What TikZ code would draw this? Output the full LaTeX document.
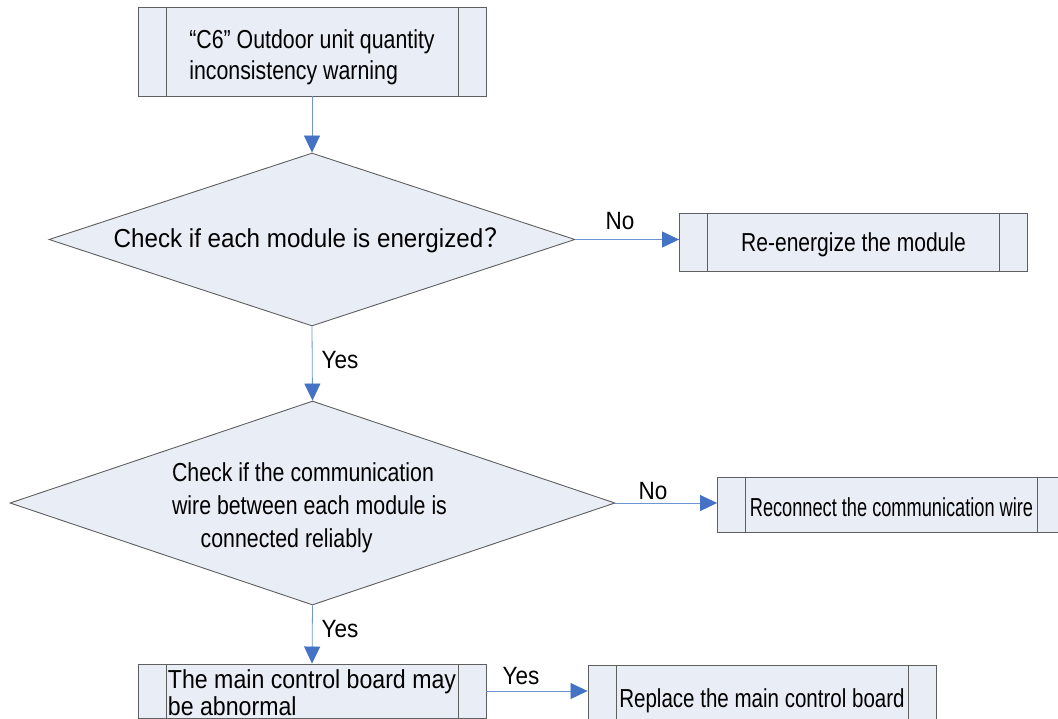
\documentclass[tikz,border=0pt]{standalone}
\usepackage{fontspec}
\setmainfont{Liberation Sans}
\newfontfamily\cjkfont{Noto Sans CJK SC}
\usepackage{graphicx}
\usetikzlibrary{shapes.geometric,arrows.meta}
\definecolor{boxfill}{RGB}{233,237,246}
\definecolor{boxline}{RGB}{95,95,95}
\definecolor{conn}{RGB}{110,148,212}
\definecolor{tipblue}{RGB}{68,114,196}
\newcommand{\sx}[2]{\scalebox{#1}[1]{#2}}
\newcommand{\lowerby}[2]{\raisebox{-#1}[\height][\depth]{#2}}
\begin{document}
\begin{tikzpicture}[x=1pt,y=-1pt,
  every node/.style={font=\fontsize{26}{31}\selectfont},
  procbox/.style={draw=boxline, fill=boxfill, line width=0.9pt, rectangle, inner sep=0pt,
    minimum width=348pt, minimum height=#1,
    path picture={\draw[boxline,line width=0.9pt]
      ([xshift=28pt]path picture bounding box.north west) -- ([xshift=28pt]path picture bounding box.south west)
      ([xshift=-28pt]path picture bounding box.north east) -- ([xshift=-28pt]path picture bounding box.south east);}},
  decision/.style={diamond, draw=boxline, fill=boxfill, line width=0.9pt, inner sep=0pt, aspect=3},
  connector/.style={draw=conn, line width=0.8pt, -{Triangle[length=17pt,width=16pt,color=tipblue]}},
  lab/.style={inner sep=0pt, font=\fontsize{25}{30}\selectfont}]
\clip (0,0) rectangle (1058,718);
\fill[white] (0,0) rectangle (1058,718);

\node[procbox=89pt] (b1) at (312,51.5) {\lowerby{6.5pt}{\sx{0.82}{\begin{tabular}{@{}l@{}}“C6” Outdoor unit quantity\\inconsistency warning\end{tabular}}}};

\node[decision, minimum width=526pt, minimum height=173pt] (d1) at (312,239.5)
  {\lowerby{1pt}{\sx{0.93}{Check if each module is energized}\kern1pt{\cjkfont ？}}};

\node[procbox=58pt] (b2) at (853.5,242) {\lowerby{2.5pt}{\sx{0.81}{Re-energize the module}}};

\node[decision, minimum width=605pt, minimum height=204pt] (d2) at (312.5,503)
  {\fontsize{26}{33}\selectfont\lowerby{5pt}{\hspace*{-6pt}\sx{0.82}{\begin{tabular}{@{}l@{}}Check if the communication\\wire between each module is\\\hspace*{35pt}connected reliably\end{tabular}}}};

\node[procbox=55pt] (b3) at (891.5,504.5) {\lowerby{3pt}{\sx{0.70}{Reconnect the communication wire}}};

\node[procbox=54pt] (b4) at (312,691) {\fontsize{26}{27}\selectfont\lowerby{6pt}{\sx{0.89}{\begin{tabular}{@{}l@{}}The main control board may\\be abnormal\end{tabular}}}};

\node[procbox=58pt] (b5) at (762,694) {\lowerby{7pt}{\sx{0.79}{Replace the main control board}}};

\draw[connector] (b1.south) -- (d1.north);
\draw[connector] (d1.east) -- (d1.east -| b2.west);
\draw[connector] (d1.south) -- (d2.north);
\draw[connector] (d2.east) -- (d2.east -| b3.west);
\draw[connector] (d2.south) -- (b4.north);
\draw[connector] (b4.east) -- (b4.east -| b5.west);

\node[lab] (no1) at (620,221) {\sx{0.9}{No}};
\node[lab] (no2) at (653,491) {\sx{0.9}{No}};
\node[lab] (yes1) at (340,360) {\sx{0.9}{Yes}};
\node[lab] (yes2) at (340,629) {\sx{0.9}{Yes}};
\node[lab] (yes3) at (521,676) {\sx{0.9}{Yes}};
\end{tikzpicture}
\end{document}
